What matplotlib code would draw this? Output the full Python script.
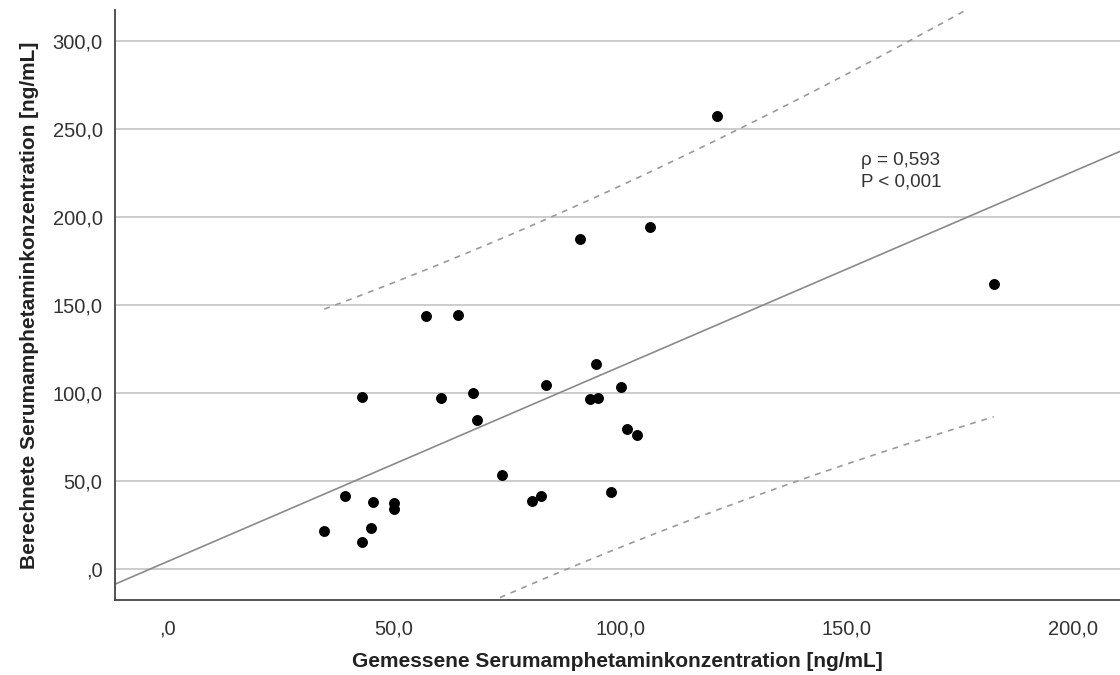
import numpy as np
import matplotlib
matplotlib.use("Agg")
import matplotlib.pyplot as plt

plt.rcParams["font.family"] = ["Liberation Sans", "DejaVu Sans"]

# gemessen (x) vs. berechnet (y), ng/mL
gemessen = [34.7, 39.2, 43.1, 43.1, 45.1, 45.4, 50.1, 50.2, 57.1, 60.4,
            64.2, 67.6, 68.4, 74.0, 80.5, 82.5, 83.6, 91.2, 93.4, 94.7,
            95.2, 98.0, 100.2, 101.5, 103.8, 106.7, 121.5, 182.5]
berechnet = [21.6, 41.5, 97.9, 15.2, 23.1, 38.2, 37.3, 33.9, 143.8, 97.2,
             144.1, 99.8, 84.8, 53.6, 38.6, 41.5, 104.5, 187.7, 96.4, 116.5,
             97.0, 43.8, 103.6, 79.4, 76.1, 194.1, 257.4, 161.8]

x_ticks = [0, 50, 100, 150, 200]
x_tick_labels = [",0", "50,0", "100,0", "150,0", "200,0"]
y_ticks = [0, 50, 100, 150, 200, 250, 300]
y_tick_labels = [",0", "50,0", "100,0", "150,0", "200,0", "250,0", "300,0"]

x_label = "Gemessene Serumamphetaminkonzentration [ng/mL]"
y_label = "Berechnete Serumamphetaminkonzentration [ng/mL]"
annot = ["ρ = 0,593", "P < 0,001"]

x = np.array(gemessen)
y = np.array(berechnet)
n = len(x)

# lineare Anpassung + 95%-Vorhersageintervall (einzelne Werte)
slope, intercept = np.polyfit(x, y, 1)
resid = y - (intercept + slope * x)
s = np.sqrt(np.sum(resid ** 2) / (n - 2))
t_crit = 2.056  # t(0.975, df=26)
sxx = np.sum((x - x.mean()) ** 2)

xlim = (-11.5, 210.4)
ylim = (-17.6, 317.6)

fig = plt.figure(figsize=(11.2, 6.75), dpi=100)
ax = fig.add_axes([0.1027, 0.111, 0.8973, 0.874])

ax.set_xlim(*xlim)
ax.set_ylim(*ylim)
ax.set_axisbelow(True)
ax.yaxis.grid(True, color="#c8c8c8", linewidth=1.3)
ax.xaxis.grid(False)

xs = np.linspace(xlim[0], xlim[1], 200)
ax.plot(xs, intercept + slope * xs, color="#8a8a8a", linewidth=1.2)

xp = np.linspace(x.min(), x.max(), 200)
yp = intercept + slope * xp
hw = t_crit * s * np.sqrt(1 + 1 / n + (xp - x.mean()) ** 2 / sxx)
ax.plot(xp, yp + hw, color="#9a9a9a", linewidth=1.2, linestyle=(0, (3.5, 3.5)))
ax.plot(xp, yp - hw, color="#9a9a9a", linewidth=1.2, linestyle=(0, (3.5, 3.5)))

ax.scatter(x, y, s=62, color="black", zorder=3, linewidths=0)

ax.text(162, 232, annot[0], fontsize=13.5, color="#333333", ha="center", va="center")
ax.text(162, 220, annot[1], fontsize=13.5, color="#333333", ha="center", va="center")

ax.set_xticks(x_ticks)
ax.set_xticklabels(x_tick_labels)
ax.set_yticks(y_ticks)
ax.set_yticklabels(y_tick_labels)
ax.tick_params(axis="x", length=0, pad=14, labelsize=14.5, labelcolor="#333333")
ax.tick_params(axis="y", length=0, pad=9, labelsize=14.5, labelcolor="#333333")

for side in ["top", "right"]:
    ax.spines[side].set_visible(False)
for side in ["left", "bottom"]:
    ax.spines[side].set_color("#444444")
    ax.spines[side].set_linewidth(1.3)

ax.set_xlabel(x_label, fontsize=15, fontweight="bold", color="#222222", labelpad=10)
ax.set_ylabel(y_label, fontsize=15, fontweight="bold", color="#222222", labelpad=10)

fig.savefig("out.png", dpi=100)
